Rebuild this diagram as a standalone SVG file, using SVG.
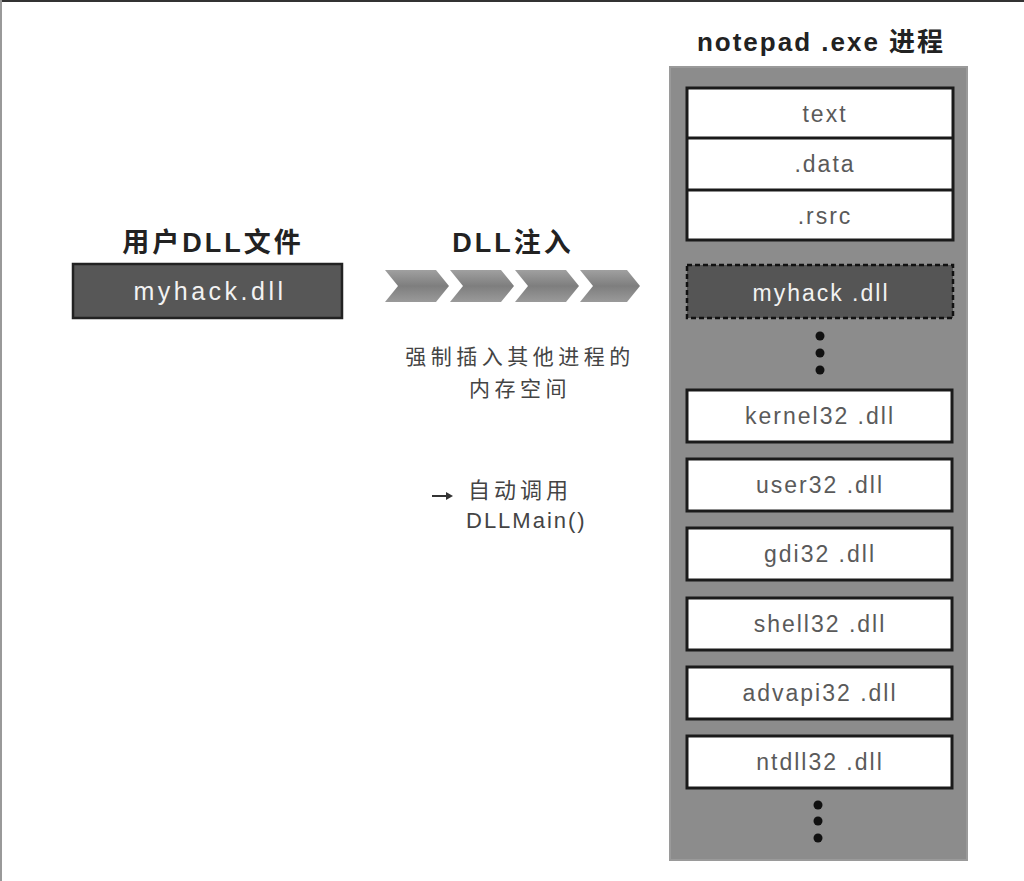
<svg xmlns="http://www.w3.org/2000/svg" width="1024" height="881" viewBox="0 0 1024 881">
<defs>
<linearGradient id="chev" x1="0" y1="0" x2="0" y2="1">
<stop offset="0" stop-color="#a0a0a0"/>
<stop offset="0.5" stop-color="#7e7e7e"/>
<stop offset="1" stop-color="#9a9a9a"/>
</linearGradient>
<style>
.t{font-family:"Liberation Sans","Noto Sans CJK SC",sans-serif;}
.title{font-size:27px;fill:#222;text-anchor:middle;font-weight:bold;letter-spacing:3px;}
.lbl{font-size:23px;fill:#5a5a5a;text-anchor:middle;letter-spacing:2px;}
.wlbl{font-size:23px;fill:#f2f2f2;text-anchor:middle;letter-spacing:2px;}
.note{font-size:21px;fill:#444;letter-spacing:4.5px;}
.wbox{fill:#fff;stroke:#1a1a1a;stroke-width:3;}
.dot{fill:#111;}
</style>
</defs>
<rect x="0" y="0" width="1024" height="881" fill="#fff"/>
<rect x="0" y="0" width="1024" height="2" fill="#333"/>
<rect x="0" y="0" width="2" height="881" fill="#999"/>

<g id="user-dll">
<text class="t title" x="213" y="252">用户DLL文件</text>
<rect x="73" y="264" width="269" height="54" fill="#575757" stroke="#222" stroke-width="2.5"/>
<text class="t wlbl" x="210" y="300" style="font-size:25px;letter-spacing:3.5px">myhack.dll</text>
</g>

<g id="injection">
<text class="t title" x="513" y="252">DLL注入</text>
<g fill="url(#chev)">
<polygon points="385,270 436,270 449,286 436,302 385,302 398,286"/>
<polygon points="450,270 501,270 514,286 501,302 450,302 463,286"/>
<polygon points="515,270 566,270 579,286 566,302 515,302 528,286"/>
<polygon points="580,270 627,270 640,286 627,302 580,302 593,286"/>
</g>
<text class="t note" x="520" y="364" text-anchor="middle">强制插入其他进程的</text>
<text class="t note" x="520" y="396" text-anchor="middle">内存空间</text>
</g>

<g id="dllmain-note">
<line x1="432" y1="496" x2="447" y2="496" stroke="#333" stroke-width="2"/>
<polygon points="446,492 453,496 446,500" fill="#333"/>
<text class="t note" x="468" y="498" style="font-size:22px;letter-spacing:4px">自动调用</text>
<text class="t note" x="466" y="528" style="font-size:22px;letter-spacing:2px">DLLMain()</text>
</g>

<g id="notepad-process">
<text class="t title" x="821" y="51" style="font-size:26px;letter-spacing:2px">notepad .exe 进程</text>
<rect x="670" y="67" width="297" height="793" fill="#8c8c8c" stroke="#9a9a9a" stroke-width="2"/>
</g>

<g id="sections">
<rect class="wbox" x="687" y="88" width="266" height="152"/>
<line x1="687" y1="138" x2="953" y2="138" stroke="#1a1a1a" stroke-width="3"/>
<line x1="687" y1="190" x2="953" y2="190" stroke="#1a1a1a" stroke-width="3"/>
<text class="t lbl" x="825" y="122">text</text>
<text class="t lbl" x="825" y="172">.data</text>
<text class="t lbl" x="825" y="224">.rsrc</text>
</g>

<g id="injected-myhack">
<rect x="687" y="265" width="266" height="53" fill="#555" stroke="#111" stroke-width="2.5" stroke-dasharray="5,3"/>
<text class="t wlbl" x="821" y="301">myhack .dll</text>
</g>

<g id="dots-1">
<circle class="dot" cx="820" cy="336" r="4.5"/>
<circle class="dot" cx="820" cy="353" r="4.5"/>
<circle class="dot" cx="820" cy="370" r="4.5"/>
</g>

<g id="kernel32">
<rect class="wbox" x="687" y="390" width="265" height="52"/>
<text class="t lbl" x="820" y="424">kernel32 .dll</text>
</g>
<g id="user32">
<rect class="wbox" x="687" y="459" width="265" height="52"/>
<text class="t lbl" x="820" y="493">user32 .dll</text>
</g>
<g id="gdi32">
<rect class="wbox" x="687" y="528" width="265" height="52"/>
<text class="t lbl" x="820" y="562">gdi32 .dll</text>
</g>
<g id="shell32">
<rect class="wbox" x="687" y="598" width="265" height="52"/>
<text class="t lbl" x="820" y="632">shell32 .dll</text>
</g>
<g id="advapi32">
<rect class="wbox" x="687" y="667" width="265" height="52"/>
<text class="t lbl" x="820" y="701">advapi32 .dll</text>
</g>
<g id="ntdll32">
<rect class="wbox" x="687" y="736" width="265" height="52"/>
<text class="t lbl" x="820" y="770">ntdll32 .dll</text>
</g>

<g id="dots-2">
<circle class="dot" cx="818" cy="805" r="4.5"/>
<circle class="dot" cx="818" cy="821" r="4.5"/>
<circle class="dot" cx="818" cy="838" r="4.5"/>
</g>

<g id="connectors"></g>
</svg>
